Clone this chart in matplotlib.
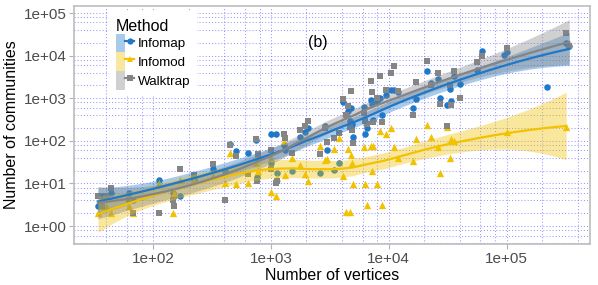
import numpy as np
import matplotlib
matplotlib.use("Agg")
import matplotlib.pyplot as plt
from matplotlib.lines import Line2D
from matplotlib.patches import Patch
from matplotlib.legend_handler import HandlerTuple
from matplotlib.ticker import FixedLocator, NullFormatter

plt.rcParams['font.family'] = ['Liberation Sans', 'DejaVu Sans']

# ---------------- data ----------------
vertices = [34, 37, 40, 44, 62, 68, 113, 146, 150, 168, 222, 325, 407, 446, 509,
            638, 740, 755, 770, 1000, 1010, 1100, 1130, 1300, 1320, 1500, 1750,
            1950, 2050, 2600, 2900, 3000, 3450, 3800, 4100, 4300, 4500, 4700,
            4800, 4900, 5000, 6200, 6300, 6500, 7000, 7200, 7400, 8000, 8400,
            8800, 9500, 10500, 11000, 12000, 16000, 17000, 21000, 23000, 26000,
            27000, 31000, 33000, 34000, 36000, 40000, 56000, 62000, 95000,
            100000, 220000, 320000, 340000]
infomap = [3, 5, 5, 6, 6, 4, 12, 6, 5, 5, 12, 22, 20, 84, 58,
           51, 105, 14.5, 40, 144, 31, 144, 17.5, 80, 60, 20, 124,
           163, 200, 17.5, 218, 60, 21, 31, 800, 400, 505, 300,
           600, 250, 120, 610, 143, 200, 900, 725, 310, 870, 1000,
           400, 1200, 1600, 1600, 1400, 575, 955, 4400, 2240, 2800,
           1000, 700, 1630, 840, 3400, 2140, 4640, 12600, 10500,
           12300, 1860, 19500, 17000]
infomod = [2, 3, 3, 2, 3, 2, 10, 2, 6, 12, 12, 15, 10.5, 53, 9.6,
           10, 30, 45, 20, 6.3, 40, 5.1, 13.8, 100, 15.7, 39, 27,
           16.6, 11.5, 76, 36, 37, 64, 114, 15, 2.1, 64, 2.1,
           46, 30, 9.6, 70, 9.6, 3.2, 74, 20, 74, 9.6, 170,
           3.2, 143, 195, 70, 40, 34, 110, 234, 120, 70,
           18, 210, 39, 110, 100, np.nan, np.nan, np.nan, np.nan,
           158, np.nan, 206, np.nan]
walktrap = [5, 3, 5, 8, 4, 2, 2, 4, 3, 22, 16, 28, 4, 80, 45,
            17, 110, 11.5, 49, 62, 22, 10, 11.3, 144, 114, 53, 181,
            225, 285, 49, 195, 95, 114, 150, 955, 400, 640, 206,
            1490, 180, 90, 450, 300, 250, 2560, 1410, 280, 1000, 3240,
            280, 1580, 4000, 5700, 1500, 400, 2400, 7500, 2000, 4000,
            725, 218, 2000, 700, 4270, 1000, 6900, 9900, np.nan,
            14700, np.nan, 33300, 17000]

methods = ["Infomap", "Infomod", "Walktrap"]
series = [infomap, infomod, walktrap]
colors = ["#1f78c8", "#f2c200", "#858585"]
markers = ["o", "^", "s"]
msizes = [22, 28, 22]
spans = [0.9, 0.75, 0.9]


def loess(x, y, xg, span=0.75, degree=2):
    n = len(x)
    q = int(np.floor(n * span))

    def smoother_rows(pts):
        rows = []
        for x0 in pts:
            d = np.abs(x - x0)
            h = np.sort(d)[q - 1] * 1.0000001
            w = np.clip(1 - (d / h) ** 3, 0, None) ** 3
            X = np.vander(x - x0, degree + 1, increasing=True)
            XtW = X.T * w
            A = np.linalg.pinv(XtW @ X) @ XtW
            rows.append(A[0])
        return np.array(rows)

    L = smoother_rows(x)
    res = y - L @ y
    IL = np.eye(n) - L
    d1 = np.trace(IL.T @ IL)
    sigma2 = np.sum(res ** 2) / d1
    Lg = smoother_rows(xg)
    fit = Lg @ y
    se = np.sqrt(sigma2 * np.sum(Lg ** 2, axis=1))
    return fit, se


fig = plt.figure(figsize=(5.98, 2.85), dpi=100)
ax = fig.add_axes([74 / 598, 1 - 244 / 285, (590 - 74) / 598, (244 - 5.5) / 285])
ax.set_xscale("log")
ax.set_yscale("log")
ax.set_xlim(21.3, 5.1e5)
ax.set_ylim(0.38, 1.5e5)

# grid
major = [10.0 ** k for k in range(-1, 7)]
minor = [m * 10.0 ** k for k in range(-1, 7) for m in (2, 4, 6, 8)]
for v in major + minor:
    ax.axvline(v, color="#5a5aff", lw=0.75, ls=(0, (1, 2)), alpha=0.62, zorder=0)
    ax.axhline(v, color="#5a5aff", lw=0.75, ls=(0, (1, 2)), alpha=0.62, zorder=0)

xv = np.array(vertices, dtype=float)
# points
for s, c, m, ms in zip(series, colors, markers, msizes):
    yv = np.array(s, dtype=float)
    ok = ~np.isnan(yv)
    ax.scatter(xv[ok], yv[ok], s=ms, marker=m, color=c, linewidths=0, zorder=2)

# smoothers (loess on log-log scale, with ~95% band)
for s, c, sp in zip(series, colors, spans):
    yv = np.array(s, dtype=float)
    ok = ~np.isnan(yv)
    lx = np.log10(xv[ok])
    ly = np.log10(yv[ok])
    order = np.argsort(lx)
    lx, ly = lx[order], ly[order]
    xg = np.linspace(lx.min(), lx.max(), 80)
    fit, se = loess(lx, ly, xg, span=sp)
    t = 1.99
    ax.fill_between(10 ** xg, 10 ** (fit - t * se), 10 ** (fit + t * se),
                    color=c, alpha=0.38, lw=0, zorder=3)
    ax.plot(10 ** xg, 10 ** fit, color=c, lw=1.6, zorder=4)

# ticks
ax.xaxis.set_major_locator(FixedLocator([1e2, 1e3, 1e4, 1e5]))
ax.set_xticklabels(["1e+02", "1e+03", "1e+04", "1e+05"])
ax.yaxis.set_major_locator(FixedLocator([1e0, 1e1, 1e2, 1e3, 1e4, 1e5]))
ax.set_yticklabels(["1e+00", "1e+01", "1e+02", "1e+03", "1e+04", "1e+05"])
ax.xaxis.set_minor_locator(FixedLocator([]))
ax.yaxis.set_minor_locator(FixedLocator([]))
ax.xaxis.set_minor_formatter(NullFormatter())
ax.yaxis.set_minor_formatter(NullFormatter())
ax.tick_params(axis="both", which="major", length=3.5, width=0.8, color="#b3b3b3",
               labelsize=11, labelcolor="#4d4d4d", pad=2)
for spn in ax.spines.values():
    spn.set_color("#bdbdbd")
    spn.set_linewidth(1.2)

ax.set_xlabel("Number of vertices", fontsize=11.5, labelpad=1.5)
ax.set_ylabel("Number of communities", fontsize=11.5, labelpad=3)

ax.text(2490, 20300, "(b)", fontsize=11.5, ha="center", va="center", zorder=6)

# legend
handles = []
for c, m in zip(colors, markers):
    p = Patch(facecolor=c, alpha=0.38, edgecolor="none")
    l = Line2D([], [], color=c, lw=1.6, marker=m, markersize=4.5, markeredgewidth=0)
    handles.append((p, l))
leg = ax.legend(handles, methods, handler_map={tuple: HandlerTuple(ndivide=None, pad=0)},
                title="Method", loc="upper left", bbox_to_anchor=(0.068, 0.972),
                fontsize=9.6, title_fontsize=11.5, handlelength=1.4, handleheight=1.77,
                handletextpad=0.25, labelspacing=0.0, borderpad=0.5, borderaxespad=0,
                frameon=True, fancybox=False, alignment="left")
leg.get_frame().set_facecolor("white")
leg.get_frame().set_edgecolor("none")
leg.get_frame().set_alpha(1)
leg.set_zorder(7)

fig.savefig("out.png", dpi=100)
